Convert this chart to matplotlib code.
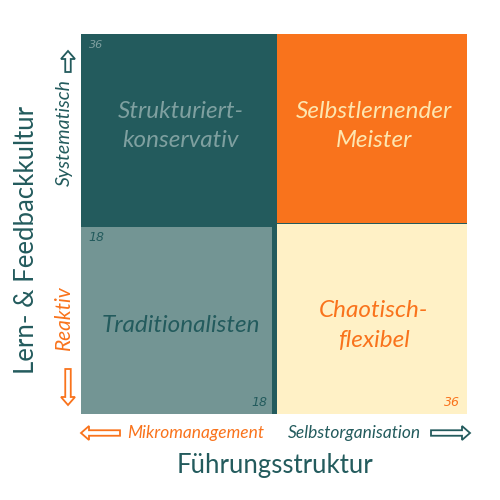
import matplotlib.pyplot as plt
from matplotlib.patches import Rectangle, FancyArrow

# quadrant data (x from 0 to 36, y from 0 to 36, split at 18)
quadrant_names = ["Strukturiert-\nkonservativ", "Selbstlernender\nMeister",
                  "Traditionalisten", "Chaotisch-\nflexibel"]
quadrant_x = [9, 27, 9, 27]
quadrant_y = [27, 27, 9, 9]
axis_max = 36
axis_mid = 18

DARK = "#235b5d"
ORANGE = "#f9731c"
GRAYTEAL = "#739594"
CREAM = "#fff1c6"
LIGHT = "#7fa0a0"

fig = plt.figure(figsize=(5, 5), dpi=100)
ax = fig.add_axes([0.162, 0.172, 0.772, 0.76])
ax.set_xlim(0, axis_max)
ax.set_ylim(0, axis_max)
ax.set_facecolor(DARK)
for s in ax.spines.values():
    s.set_visible(False)
ax.set_xticks([])
ax.set_yticks([])

ax.add_patch(Rectangle((0, 0), axis_mid - 0.15, axis_mid - 0.3, color=GRAYTEAL, lw=0))
ax.add_patch(Rectangle((axis_mid + 0.25, axis_mid + 0.12), axis_max - axis_mid - 0.25,
                       axis_max - axis_mid - 0.12, color=ORANGE, lw=0))
ax.add_patch(Rectangle((axis_mid + 0.25, 0), axis_max - axis_mid - 0.25,
                       axis_mid - 0.02, color=CREAM, lw=0))

name_colors = [LIGHT, "#fde6b0", DARK, ORANGE]
for name, x, y, c in zip(quadrant_names, quadrant_x, quadrant_y, name_colors):
    dy = 0.3 if y > axis_mid else -0.6
    ax.text(x + 0.3, y + dy, name, color=c, fontsize=17.5, style="italic",
            family="Lato", ha="center", va="center", linespacing=1.5)

# corner values
ax.text(0.7, axis_max - 0.6, str(axis_max), color=LIGHT, fontsize=8, style="italic",
        ha="left", va="top")
ax.text(0.7, axis_mid - 0.7, str(axis_mid), color=DARK, fontsize=9, style="italic",
        ha="left", va="top")
ax.text(axis_mid - 0.6, 0.5, str(axis_mid), color=DARK, fontsize=9, style="italic",
        ha="right", va="bottom")
ax.text(axis_max - 0.7, 0.5, str(axis_max), color=ORANGE, fontsize=9, style="italic",
        ha="right", va="bottom")

# axis titles
fig.text(0.55, 0.07, "Führungsstruktur", color=DARK, fontsize=18.5, family="Lato",
         ha="center", va="center")
fig.text(0.054, 0.52, "Lern- & Feedbackkultur", color=DARK, fontsize=18.5, family="Lato",
         rotation=90, ha="center", va="center")

# pole labels
fig.text(0.128, 0.735, "Systematisch", color=DARK, fontsize=14, style="italic",
         family="Lato", rotation=90, ha="center", va="center")
fig.text(0.128, 0.365, "Reaktiv", color=ORANGE, fontsize=15, style="italic",
         family="Lato", rotation=90, ha="center", va="center")
fig.text(0.392, 0.134, "Mikromanagement", color=ORANGE, fontsize=12.5, style="italic",
         family="Lato", ha="center", va="center")
fig.text(0.708, 0.134, "Selbstorganisation", color=DARK, fontsize=12.5, style="italic",
         family="Lato", ha="center", va="center")

# hollow arrows
arrow_kw = dict(width=0.011, head_width=0.028, head_length=0.016, facecolor="white",
                lw=1.3, transform=fig.transFigure, length_includes_head=True)
fig.add_artist(FancyArrow(0.136, 0.856, 0, 0.042, edgecolor=DARK, **arrow_kw))
fig.add_artist(FancyArrow(0.136, 0.262, 0, -0.072, edgecolor=ORANGE, **arrow_kw))
fig.add_artist(FancyArrow(0.24, 0.134, -0.078, 0, edgecolor=ORANGE, **arrow_kw))
fig.add_artist(FancyArrow(0.862, 0.134, 0.078, 0, edgecolor=DARK, **arrow_kw))

fig.savefig("out.png", dpi=100, facecolor="white")
